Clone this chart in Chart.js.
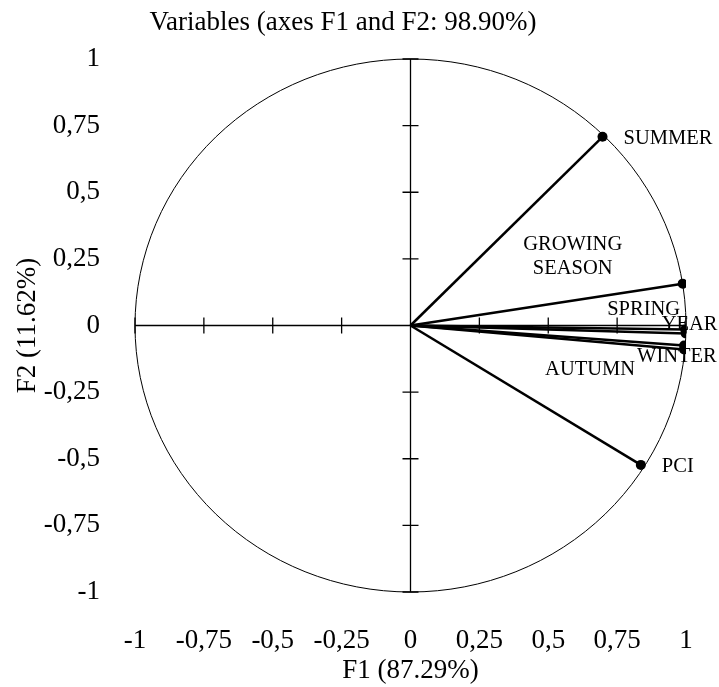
<!DOCTYPE html>
<html>
<head>
<meta charset="utf-8">
<script src="https://cdn.jsdelivr.net/npm/chart.js@4"></script>
<style>
  html, body { margin: 0; padding: 0; background: #fff; }
</style>
</head>
<body>
<canvas id="circleChart" width="719" height="687"></canvas>
<script>
// データ（相関円の変数座標）
const variables = ['SUMMER', 'GROWING SEASON', 'SPRING', 'YEAR', 'WINTER', 'AUTUMN', 'PCI'];
const f1Values = [0.697, 0.988, 0.997, 0.999, 0.993, 0.993, 0.836];
const f2Values = [0.708, 0.157, -0.015, -0.03, -0.075, -0.09, -0.523];
const tickValues = [-1, -0.75, -0.5, -0.25, 0, 0.25, 0.5, 0.75, 1];
const tickLabels = ['-1', '-0,75', '-0,5', '-0,25', '0', '0,25', '0,5', '0,75', '1'];

// ラベルの位置（点からのずれ, px）
const labelLayout = {
    'SUMMER': { dx: 21, dy: 2, align: 'left' },
    'GROWING SEASON': { dx: -110, dy: -39, align: 'center', lines: ['GROWING', 'SEASON'] },
    'SPRING': { dx: -78, dy: -20, align: 'left' },
    'YEAR': { dx: -24, dy: -9, align: 'left' },
    'WINTER': { dx: -47, dy: 11, align: 'left' },
    'AUTUMN': { dx: -139, dy: 20, align: 'left' },
    'PCI': { dx: 21, dy: 2, align: 'left' }
};

const FONT = "'Liberation Serif', 'Times New Roman', serif";
const ctx = document.getElementById('circleChart').getContext('2d');

// 原点から各変数へのベクトル
const datasets = variables.map((name, i) => ({
    label: name,
    data: [{ x: 0, y: 0 }, { x: f1Values[i], y: f2Values[i] }],
    showLine: true,
    borderColor: '#000',
    borderWidth: 2.5,
    pointRadius: [0, 5],
    pointBackgroundColor: '#000',
    pointBorderWidth: 0
}));

/**
 * 円と中心軸を描く
 */
const circlePlugin = {
    id: 'correlationCircle',
    beforeDatasetsDraw(chart) {
        const { ctx, scales: { x, y } } = chart;
        const cx = x.getPixelForValue(0);
        const cy = y.getPixelForValue(0);
        const rx = x.getPixelForValue(1) - cx;
        const ry = cy - y.getPixelForValue(1);
        ctx.save();
        ctx.strokeStyle = '#000';
        ctx.lineWidth = 1;
        ctx.beginPath();
        ctx.ellipse(cx, cy, rx, ry, 0, 0, Math.PI * 2);
        ctx.stroke();

        ctx.lineWidth = 1.3;
        ctx.beginPath();
        ctx.moveTo(x.getPixelForValue(-1), cy);
        ctx.lineTo(x.getPixelForValue(1), cy);
        ctx.moveTo(cx, y.getPixelForValue(1));
        ctx.lineTo(cx, y.getPixelForValue(-1));
        // 目盛り
        tickValues.forEach(v => {
            if (v === 0) return;
            const px = x.getPixelForValue(v);
            const py = y.getPixelForValue(v);
            ctx.moveTo(px, cy - 8);
            ctx.lineTo(px, cy + 8);
            ctx.moveTo(cx - 8, py);
            ctx.lineTo(cx + 8, py);
        });
        ctx.stroke();
        ctx.restore();
    },
    afterDatasetsDraw(chart) {
        const { ctx, scales: { x, y } } = chart;
        ctx.save();
        ctx.fillStyle = '#000';
        ctx.font = '20.5px ' + FONT;
        ctx.textBaseline = 'middle';
        variables.forEach((name, i) => {
            const lay = labelLayout[name];
            const px = x.getPixelForValue(f1Values[i]) + lay.dx;
            const py = y.getPixelForValue(f2Values[i]) + lay.dy;
            ctx.textAlign = lay.align;
            const lines = lay.lines || [name];
            lines.forEach((t, k) => ctx.fillText(t, px, py + k * 24));
        });
        ctx.restore();
    }
};

new Chart(ctx, {
    type: 'scatter',
    data: { datasets },
    options: {
        responsive: false,
        animation: false,
        layout: { padding: { left: 0, right: 33, top: 0, bottom: 0 } },
        plugins: {
            legend: { display: false },
            tooltip: { enabled: false },
            title: {
                display: true,
                text: 'Variables (axes F1 and F2: 98.90%)',
                color: '#000',
                font: { family: FONT, size: 27, weight: 'normal', lineHeight: 1.2 },
                padding: { top: 7, bottom: 19.6 }
            }
        },
        scales: {
            x: {
                type: 'linear',
                min: -1,
                max: 1,
                grid: { display: false },
                border: { display: false },
                afterBuildTicks(scale) { scale.ticks = tickValues.map(v => ({ value: v })); },
                afterFit(scale) { scale.height = 95; },
                ticks: {
                    color: '#000',
                    padding: 25,
                    maxRotation: 0,
                    autoSkip: false,
                    font: { family: FONT, size: 27, lineHeight: 1.2 },
                    callback: (v, i) => tickLabels[i]
                },
                title: {
                    display: true,
                    text: 'F1 (87.29%)',
                    color: '#000',
                    font: { family: FONT, size: 27, lineHeight: 1.2 },
                    padding: { top: 0, bottom: 0 }
                }
            },
            y: {
                type: 'linear',
                min: -1,
                max: 1,
                grid: { display: false },
                border: { display: false },
                afterBuildTicks(scale) { scale.ticks = tickValues.map(v => ({ value: v })); },
                afterFit(scale) { scale.width = 135; },
                ticks: {
                    color: '#000',
                    padding: 27,
                    autoSkip: false,
                    font: { family: FONT, size: 27, lineHeight: 1.2 },
                    callback: (v, i) => tickLabels[i]
                },
                title: {
                    display: true,
                    text: 'F2 (11.62%)',
                    color: '#000',
                    font: { family: FONT, size: 27, lineHeight: 1.2 },
                    padding: { top: 12, bottom: 0 }
                }
            }
        }
    },
    plugins: [circlePlugin]
});
</script>
</body>
</html>
